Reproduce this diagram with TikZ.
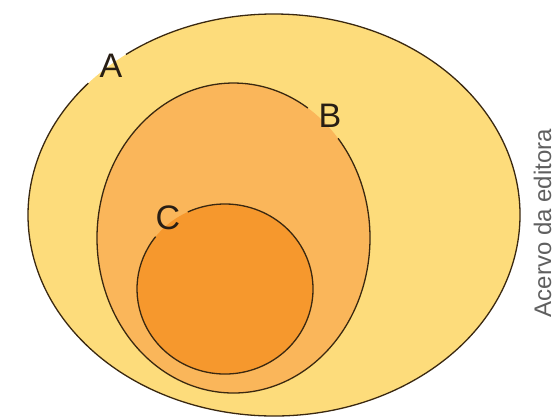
\documentclass[tikz,border=0pt]{standalone}
\usepackage{fontspec}
\setmainfont{Liberation Sans}
\definecolor{fillA}{RGB}{253,220,123}
\definecolor{fillB}{RGB}{250,182,90}
\definecolor{fillC}{RGB}{246,152,45}
\definecolor{edge}{RGB}{58,40,16}
\definecolor{ink}{RGB}{40,30,20}
\definecolor{credit}{RGB}{95,95,95}
\tikzset{
  setline/.style={draw=edge,line width=1.3bp},
  setname/.style={text=ink,inner sep=0pt,font=\fontsize{34bp}{34bp}\selectfont},
}
\begin{document}
\begin{tikzpicture}[x=1bp,y=-1bp]
\useasboundingbox (0,0) rectangle (557,419);
\fill[fillA] (274,215) ellipse (246 and 201);
\fill[fillB] (233.5,238) ellipse (136.5 and 155);
\fill[fillC] (225,289) ellipse (88 and 85);
% outlines, left open behind the letters
\draw[setline] (274,215) ++(233:246 and 201)
  arc[start angle=233,end angle=581,x radius=246,y radius=201];
\draw[setline] (233.5,238) ++(320:136.5 and 155)
  arc[start angle=320,end angle=663,x radius=136.5,y radius=155];
\draw[setline] (225,289) ++(245:88 and 85)
  arc[start angle=245,end angle=578,x radius=88,y radius=85];
\node[setname] (nameA) at (111,66) {A};
\node[setname] (nameB) at (330,116) {B};
\node[setname] (nameC) at (168,218) {C};
\node[rotate=90,anchor=base,text=credit,font=\fontsize{24bp}{24bp}\selectfont] (acervo) at (551,223) {Acervo da editora};
\end{tikzpicture}
\end{document}
